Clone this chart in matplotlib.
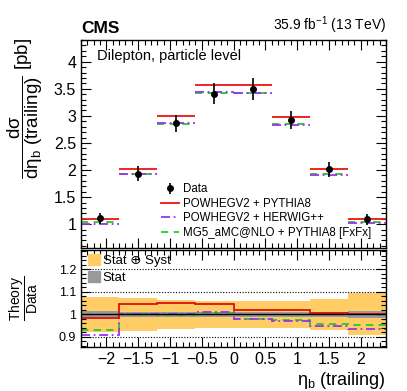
import numpy as np
import matplotlib
matplotlib.use("Agg")
import matplotlib.pyplot as plt
from matplotlib.ticker import MultipleLocator
from matplotlib.patches import Patch
from matplotlib.lines import Line2D

plt.rcParams['font.family'] = ['Liberation Sans', 'DejaVu Sans']
plt.rcParams['mathtext.fontset'] = 'custom'
plt.rcParams['mathtext.rm'] = 'Liberation Sans'
plt.rcParams['mathtext.it'] = 'Liberation Sans'
plt.rcParams['mathtext.default'] = 'regular'

# ---- data ----
bin_edges = [-2.4, -1.8, -1.2, -0.6, 0.0, 0.6, 1.2, 1.8, 2.4]
data_vals = [1.11, 1.93, 2.86, 3.41, 3.50, 2.92, 2.01, 1.09]
data_errs = [0.10, 0.14, 0.15, 0.20, 0.20, 0.17, 0.14, 0.10]
powheg_pythia = [1.09, 2.02, 3.00, 3.57, 3.57, 2.98, 2.02, 1.09]
powheg_herwig = [1.01, 1.93, 2.86, 3.44, 3.42, 2.83, 1.91, 1.02]
mg5_pythia = [1.035, 1.93, 2.855, 3.43, 3.43, 2.85, 1.92, 1.04]
rel_tot_unc = [0.077, 0.072, 0.065, 0.060, 0.060, 0.060, 0.068, 0.094]
rel_stat_unc = [0.015, 0.010, 0.010, 0.010, 0.010, 0.010, 0.010, 0.015]

edges = np.array(bin_edges)
centers = 0.5 * (edges[:-1] + edges[1:])
data = np.array(data_vals)

fig = plt.figure(figsize=(4.07, 3.91), dpi=100)
L, W = 81 / 407, 305 / 407
ax = fig.add_axes([L, 1 - 248 / 391, W, (248 - 40) / 391])
rx = fig.add_axes([L, 1 - 347 / 391, W, (347 - 250) / 391])

RED = '#ee1111'
PURPLE = '#9933ee'
GREEN = '#22cc22'
DASH = (0, (4, 3))
DASHDOT = (0, (5, 2, 1, 2))

def style(a):
    a.tick_params(which='both', direction='in', top=True, right=True, labelsize=11.5)
    a.tick_params(which='major', length=7, width=0.8)
    a.tick_params(which='minor', length=3.5, width=0.8)
    for s in a.spines.values():
        s.set_linewidth(1.0)

# upper panel
for vals, col, ls in [(mg5_pythia, GREEN, DASH),
                      (powheg_herwig, PURPLE, DASHDOT),
                      (powheg_pythia, RED, '-')]:
    ax.hlines(vals, edges[:-1], edges[1:], colors=col, linestyles=ls, lw=1.3)
eb = ax.errorbar(centers, data, yerr=data_errs, fmt='o', color='black', ms=4, lw=1.2, capsize=0)

ax.set_xlim(-2.4, 2.4)
ax.set_ylim(0.56, 4.4)
ax.xaxis.set_major_locator(MultipleLocator(0.5))
ax.xaxis.set_minor_locator(MultipleLocator(0.1))
ax.yaxis.set_minor_locator(MultipleLocator(0.1))
ax.set_yticks([1, 1.5, 2, 2.5, 3, 3.5, 4])
ax.set_yticklabels(['1', '1.5', '2', '2.5', '3', '3.5', '4'])
ax.tick_params(labelbottom=False)
style(ax)
ax.set_ylabel(r'$\dfrac{d\sigma}{d\eta_{b}\ (trailing)}$ [pb]', fontsize=13.5)
ax.yaxis.set_label_coords(-0.118, 0.67)

ax.text(0.053, 0.955, 'Dilepton, particle level', transform=ax.transAxes, fontsize=10.5, va='top')
ax.text(0.0, 1.02, 'CMS', transform=ax.transAxes, fontsize=12.5, fontweight='bold', va='bottom')
ax.text(1.0, 1.02, r'35.9 fb$^{-1}$ (13 TeV)', transform=ax.transAxes, fontsize=10, va='bottom', ha='right')

handles = [
    eb,
    Line2D([], [], color=RED, lw=1.3),
    Line2D([], [], color=PURPLE, lw=1.3, ls=DASHDOT),
    Line2D([], [], color=GREEN, lw=1.3, ls=DASH),
]
labels = ['Data', 'POWHEGV2 + PYTHIA8', 'POWHEGV2 + HERWIG++', 'MG5_aMC@NLO + PYTHIA8 [FxFx]']
leg = ax.legend(handles, labels, loc='upper left', bbox_to_anchor=(0.263, 0.311), frameon=False,
                fontsize=8.3, handlelength=1.55, handletextpad=0.3, labelspacing=0.22,
                borderaxespad=0, borderpad=0)

# ratio panel
tot = np.array(rel_tot_unc)
stat = np.array(rel_stat_unc)
for i in range(len(centers)):
    rx.fill_between([edges[i], edges[i + 1]], 1 - tot[i], 1 + tot[i], color='#ffcc66', lw=0)
    rx.fill_between([edges[i], edges[i + 1]], 1 - stat[i], 1 + stat[i], color='#999999', lw=0)
for y in [0.9, 1.1, 1.2]:
    rx.axhline(y, color='black', ls=(0, (1, 1.5)), lw=0.8)
rx.axhline(1.0, color='black', lw=1.0)
for vals, col, ls in [(mg5_pythia, GREEN, DASH),
                      (powheg_herwig, PURPLE, DASHDOT),
                      (powheg_pythia, '#dd1111', '-')]:
    r = np.array(vals) / data
    rx.stairs(r, edges, color=col, ls=ls, lw=1.3, baseline=None)

rx.set_xlim(-2.4, 2.4)
rx.set_ylim(0.855, 1.285)
rx.xaxis.set_minor_locator(MultipleLocator(0.1))
rx.set_yticks([0.9, 1.0, 1.1, 1.2])
rx.set_yticklabels(['0.9', '1', '1.1', '1.2'])
rx.yaxis.set_minor_locator(MultipleLocator(0.02))
style(rx)
rx.tick_params(axis='y', labelsize=9)
rx.set_xticks([-2, -1.5, -1, -0.5, 0, 0.5, 1, 1.5, 2])
rx.set_xticklabels(['\u22122', '\u22121.5', '\u22121', '\u22120.5', '0', '0.5', '1', '1.5', '2'])
rx.set_ylabel(r'$\dfrac{Theory}{Data}$', fontsize=10)
rx.yaxis.set_label_coords(-0.134, 0.5)
rx.set_xlabel(r'$\eta_{b}$ (trailing)', fontsize=13, loc='right', labelpad=2)

rleg = rx.legend([Patch(color='#ffcc66'), Patch(color='#999999')], ['Stat \u2295 Syst', 'Stat'],
                 loc='upper left', bbox_to_anchor=(0.022, 0.96), frameon=False, fontsize=9.5,
                 handlelength=0.9, handleheight=0.9, handletextpad=0.25, labelspacing=0.3,
                 borderaxespad=0, borderpad=0)

fig.savefig('out.png', dpi=100)
